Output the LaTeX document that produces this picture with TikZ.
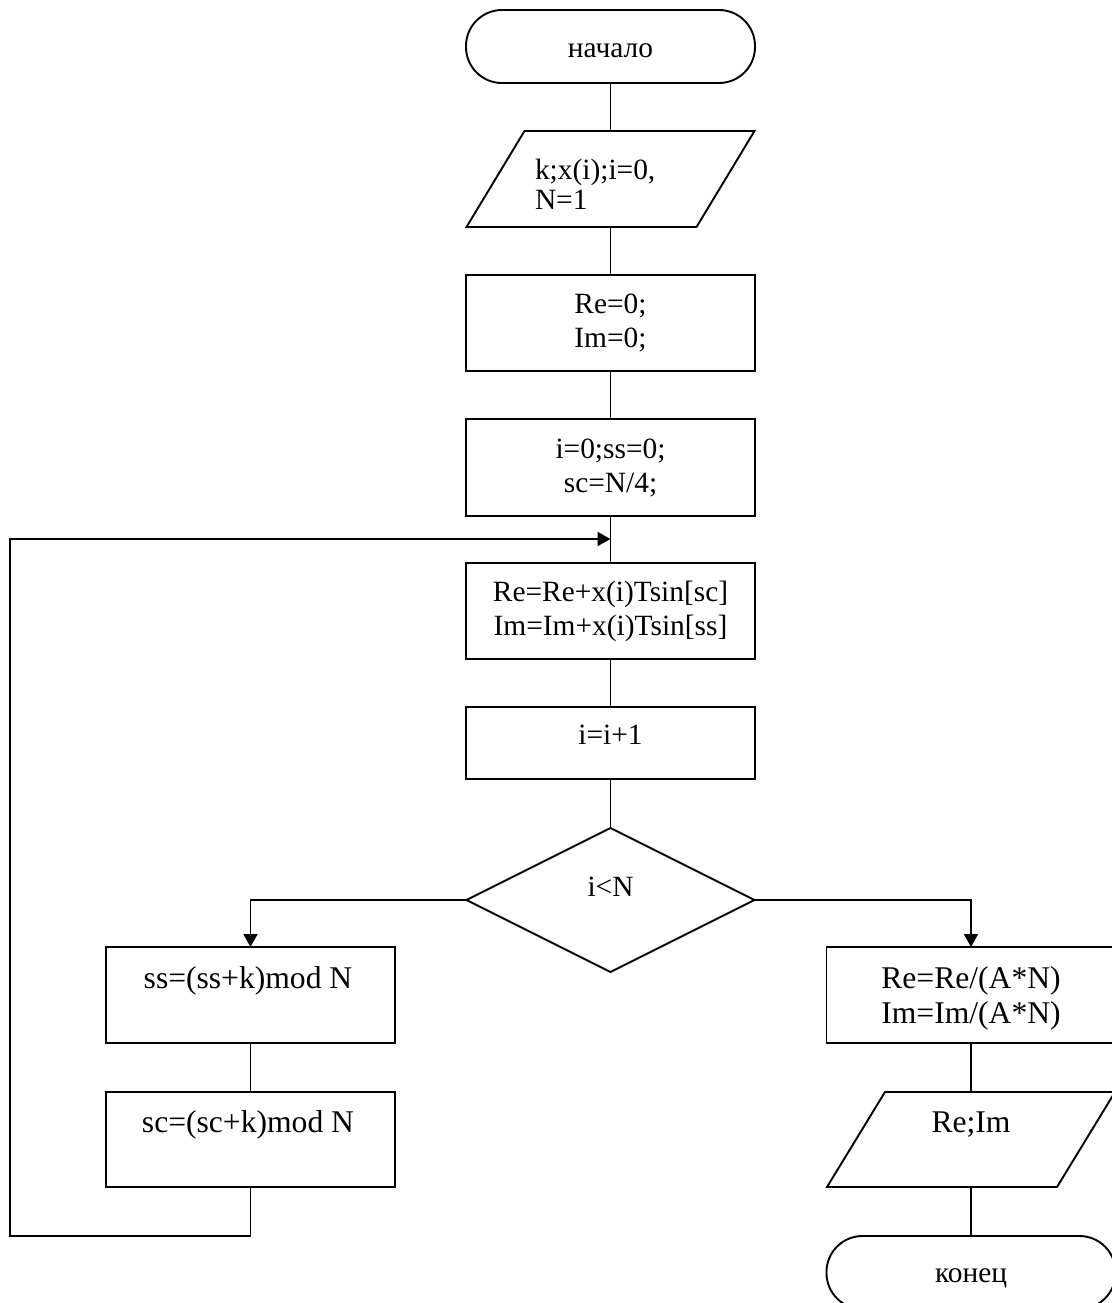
\documentclass[tikz,border=0pt]{standalone}
\usepackage{fontspec}
\setmainfont{Liberation Serif}
\usetikzlibrary{arrows.meta,calc,shapes.geometric}
\begin{document}
\begin{tikzpicture}[x=0.5pt,y=-0.5pt,
  every node/.style={font=\fontsize{14.7}{17}\selectfont, inner sep=0pt, outer sep=0pt},
  big/.style={font=\fontsize{15.8}{17.5}\selectfont},
  ln/.style={line width=0.95pt},
  arr/.style={line width=0.95pt, -{Triangle[length=6.5pt,width=7pt]}},
  box/.style={draw, line width=0.95pt, minimum width=144.5pt, minimum height=48pt, align=center},
  term/.style={draw, line width=0.95pt, rounded corners=18pt, minimum width=144.5pt, minimum height=36.5pt},
  frame/.style={minimum width=144pt, minimum height=48pt},
  lbl/.style={anchor=base}
]
\useasboundingbox (0,0) rectangle (1112,1303);

% main column
\node[term] (start) at (610.5,46.5) {};
\node[lbl] (startT) at (610.5,57) {начало};

\node[frame] (p1) at (610.5,179) {};
\draw[ln] ($(p1.north west)+(58,0)$) -- (p1.north east) -- ($(p1.south east)+(-58,0)$) -- (p1.south west) -- cycle;
\node[anchor=west, align=left, font=\fontsize{14.7}{15}\selectfont] (p1T) at (535,184.5) {k;x(i);i=0,\\N=1};

\node[box] (b1) at (610.5,323) {Re=0;\\Im=0;};
\node[box, minimum height=48.5pt] (b2) at (610.5,467.5) {i=0;ss=0;\\sc=N/4;};
\node[box] (b3) at (610.5,611) {Re=Re+x(i)Tsin[sc]\\Im=Im+x(i)Tsin[ss]};
\node[box, minimum height=36pt] (b4) at (610.5,743) {};
\node[lbl] (b4T) at (610.5,744) {i=i+1};

\node[draw, diamond, line width=0.95pt, minimum width=144pt, minimum height=72pt, aspect=2] (d) at (610.5,900) {};
\node[lbl] (dT) at (610.5,896) {i<N};

% left branch
\node[box] (ss) at (250.5,995) {};
\node[lbl, big] (ssT) at (248,988) {ss=(ss+k)mod N};
\node[box, minimum height=47.5pt] (sc) at (250.5,1139.5) {};
\node[lbl, big] (scT) at (248,1132) {sc=(sc+k)mod N};

% right branch
\node[box, big] (r1) at (971,995) {};
\node[lbl, big] (r1T) at (971,988) {Re=Re/(A*N)};
\node[lbl, big] (r1U) at (971,1023) {Im=Im/(A*N)};
\node[frame, minimum height=47.5pt] (p2) at (971,1139.5) {};
\draw[ln] ($(p2.north west)+(58,0)$) -- (p2.north east) -- ($(p2.south east)+(-58,0)$) -- (p2.south west) -- cycle;
\node[lbl, big] (p2T) at (971,1132) {Re;Im};
\node[term] (end) at (971,1272.5) {};
\node[lbl] (endT) at (971,1282) {конец};

% loop coordinates
\coordinate (lb) at (250.5,1236);
\coordinate (ll) at (10,1236);
\coordinate (lt) at (10,539);
\coordinate (jn) at (610.5,539);

% connectors
\draw[ln] (start.south) -- (p1.north);
\draw[ln] (p1.south) -- (b1.north);
\draw[ln] (b1.south) -- (b2.north);
\draw[ln] (b2.south) -- (b3.north);
\draw[ln] (b3.south) -- (b4.north);
\draw[ln] (b4.south) -- (d.north);
\draw[arr] (d.west) -| (ss.north);
\draw[ln] (ss.south) -- (sc.north);
\draw[arr] (sc.south) -- (lb) -- (ll) -- (lt) -- (jn);
\draw[arr] (d.east) -| (r1.north);
\draw[ln] (r1.south) -- (p2.north);
\draw[ln] (p2.south) -- (end.north);
\end{tikzpicture}
\end{document}
